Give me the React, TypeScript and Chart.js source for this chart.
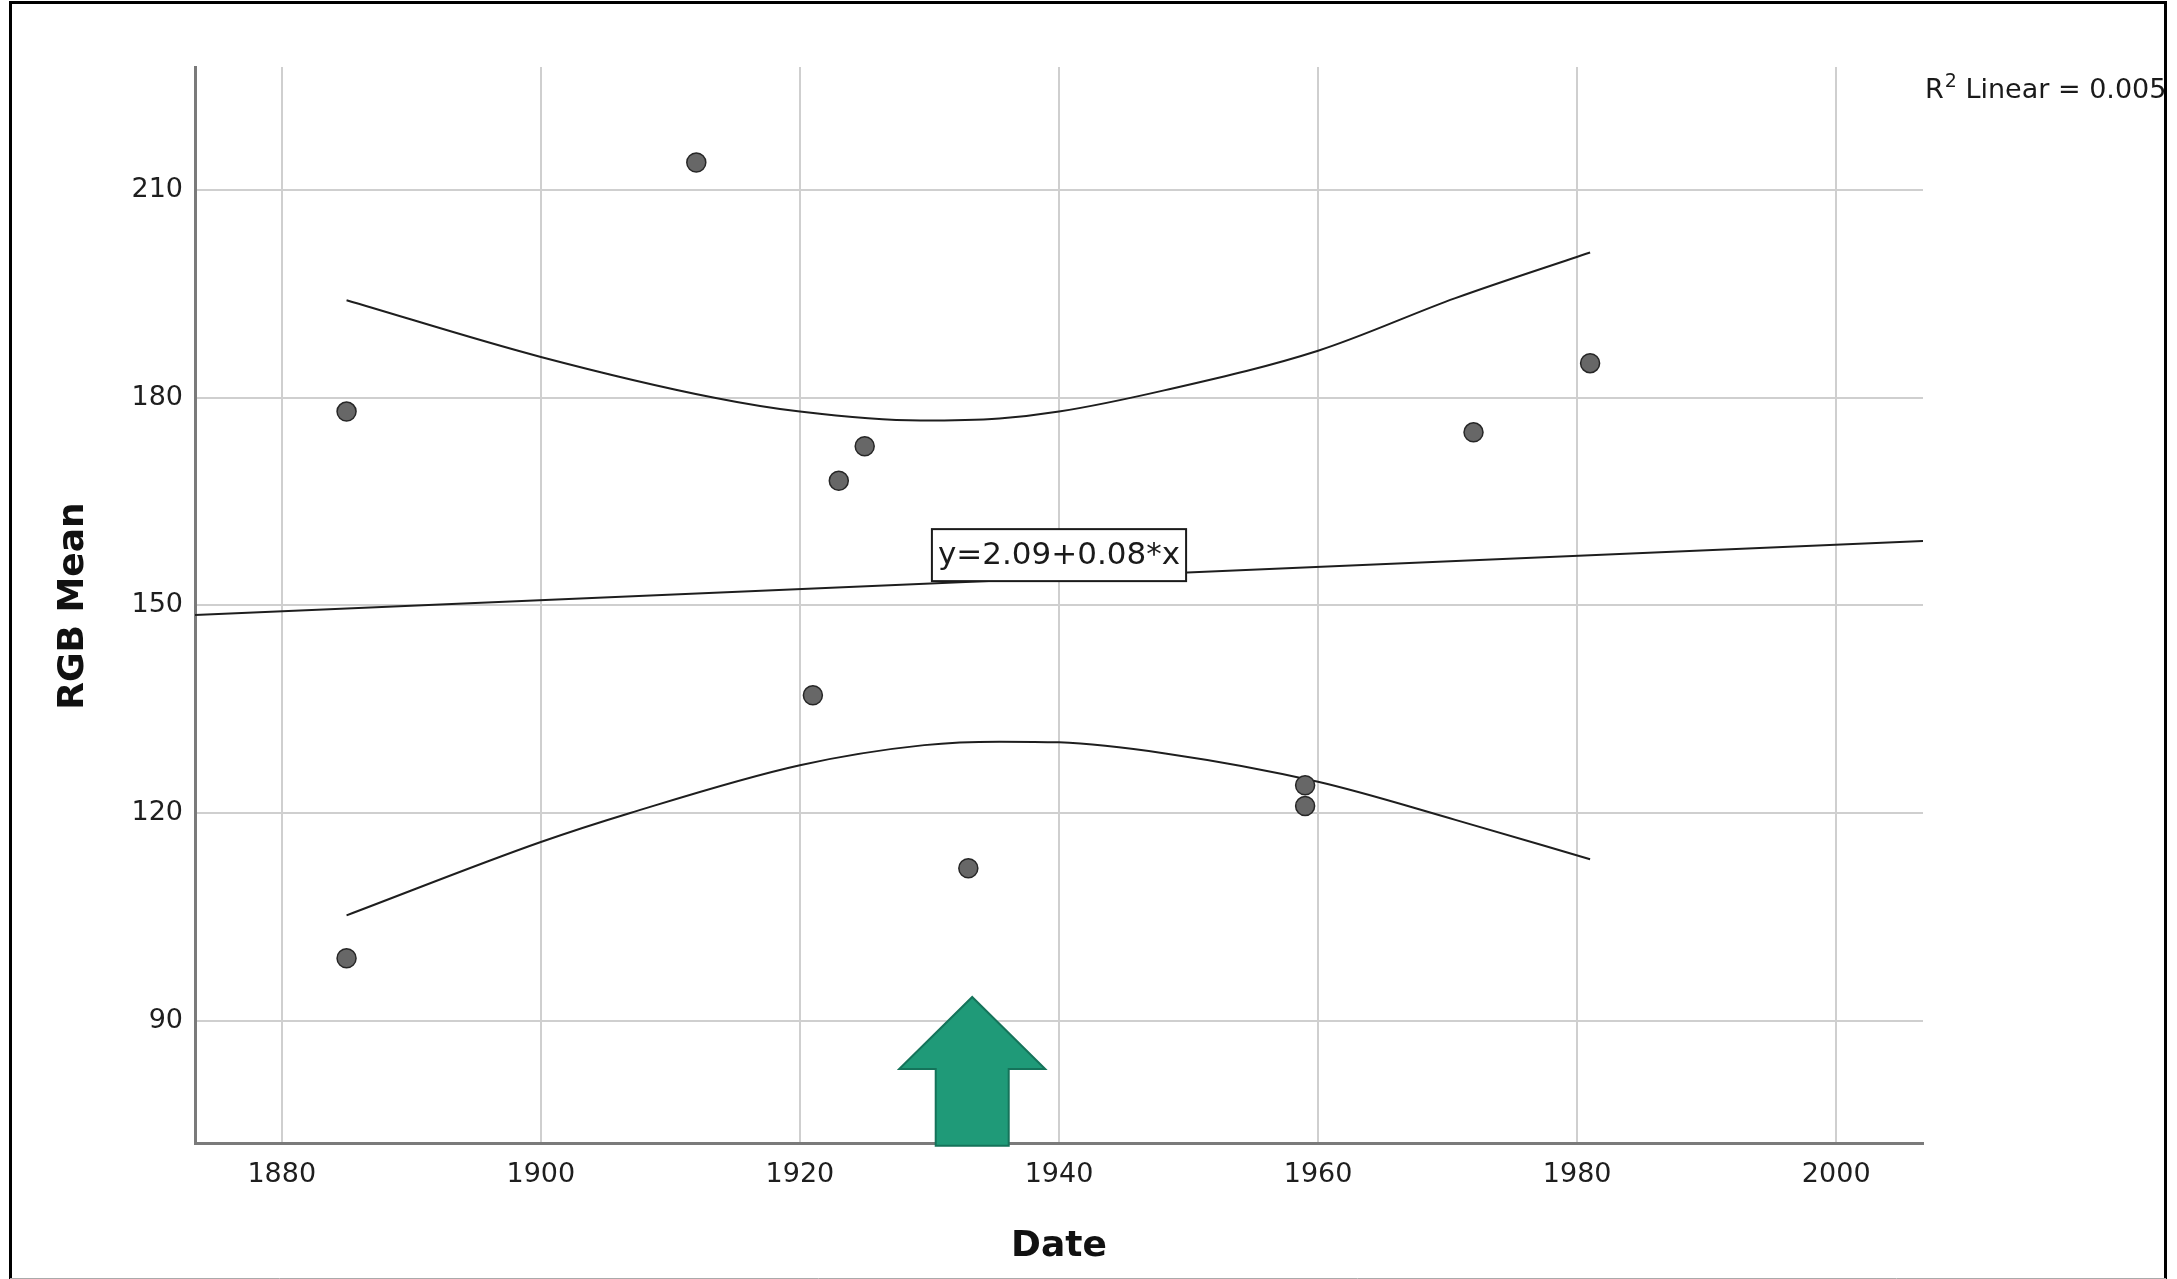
import React, { useEffect, useRef } from "react";
import { Chart, registerables } from "chart.js";

Chart.register(...registerables);

// ---- data ----
const dates = [1885, 1885, 1912, 1921, 1923, 1925, 1933, 1959, 1959, 1972, 1981];
const rgbMean = [178, 99, 214, 137, 168, 173, 112, 124, 121, 175, 185];

// fitted linear regression line (end points)
const fitX = [1873.3, 2006.7];
const fitY = [148.6, 159.3];

// 95% confidence band of the mean
const upperX = [1885, 1900, 1913.4, 1920, 1929.3, 1935.4, 1940, 1948.2, 1960, 1970.6, 1981];
const upperY = [194.1, 185.9, 180.0, 178.0, 176.7, 177.0, 178.0, 181.1, 186.8, 194.4, 201.0];
const lowerX = [1885, 1900, 1906.9, 1920, 1929.6, 1935.4, 1940, 1948.2, 1960, 1970.6, 1981];
const lowerY = [105.2, 115.8, 120.0, 126.9, 129.8, 130.3, 130.2, 128.6, 124.5, 119.0, 113.3];

const xTicks = [1880, 1900, 1920, 1940, 1960, 1980, 2000];
const yTicks = [90, 120, 150, 180, 210];
const xRange = [1873.3, 2006.7];
const yRange = [72.3, 227.8];

const xTitle = "Date";
const yTitle = "RGB Mean";
const equationLabel = "y=2.09+0.08*x";
const equationAnchor = [1940, 153.5]; // bottom-centre of the label box (data units)
const r2Label = ["R", "2", " Linear = 0.005"];
const arrowAnchor = [1933.3, 93.4, 83.0, 71.9]; // x, tip y, head base y, shaft bottom y (data units)

const W = 2177;
const H = 1279;

const overlayPlugin = {
  id: "overlay",
  beforeDraw(chart: any) {
    const ctx = chart.ctx;
    ctx.save();
    ctx.fillStyle = "#ffffff";
    ctx.fillRect(0, 0, W, H);
    ctx.restore();
  },
  afterDraw(chart: any) {
    const ctx = chart.ctx;
    const xs = chart.scales.x;
    const ys = chart.scales.y;
    const area = chart.chartArea;
    ctx.save();

    // axis titles
    ctx.fillStyle = "#111111";
    ctx.font = "bold 36px 'DejaVu Sans'";
    ctx.textAlign = "center";
    ctx.textBaseline = "middle";
    ctx.fillText(xTitle, (area.left + area.right) / 2, 1247);
    ctx.save();
    ctx.translate(74, (area.top + area.bottom) / 2 + 1);
    ctx.rotate(-Math.PI / 2);
    ctx.fillText(yTitle, 0, 0);
    ctx.restore();

    // equation label box
    ctx.font = "31px 'DejaVu Sans'";
    const tw = ctx.measureText(equationLabel).width;
    const bw = tw + 12;
    const bh = 52;
    const cx = xs.getPixelForValue(equationAnchor[0]);
    const by = ys.getPixelForValue(equationAnchor[1]);
    ctx.fillStyle = "#ffffff";
    ctx.fillRect(cx - bw / 2, by - bh, bw, bh);
    ctx.strokeStyle = "#1a1a1a";
    ctx.lineWidth = 2;
    ctx.strokeRect(cx - bw / 2, by - bh, bw, bh);
    ctx.fillStyle = "#1a1a1a";
    ctx.textAlign = "center";
    ctx.textBaseline = "middle";
    ctx.fillText(equationLabel, cx, by - bh / 2 + 1);

    // arrow annotation
    const ax = xs.getPixelForValue(arrowAnchor[0]);
    const tipY = ys.getPixelForValue(arrowAnchor[1]);
    const headY = ys.getPixelForValue(arrowAnchor[2]);
    const botY = ys.getPixelForValue(arrowAnchor[3]);
    const headHalf = 73;
    const shaftHalf = 36.5;
    ctx.beginPath();
    ctx.moveTo(ax, tipY);
    ctx.lineTo(ax + headHalf, headY);
    ctx.lineTo(ax + shaftHalf, headY);
    ctx.lineTo(ax + shaftHalf, botY);
    ctx.lineTo(ax - shaftHalf, botY);
    ctx.lineTo(ax - shaftHalf, headY);
    ctx.lineTo(ax - headHalf, headY);
    ctx.closePath();
    ctx.fillStyle = "#1f9a78";
    ctx.fill();
    ctx.strokeStyle = "#15735a";
    ctx.lineWidth = 2;
    ctx.stroke();

    // R² text (top right)
    ctx.fillStyle = "#1a1a1a";
    ctx.textAlign = "left";
    ctx.textBaseline = "alphabetic";
    let tx = 1925;
    ctx.font = "27px 'DejaVu Sans'";
    ctx.fillText(r2Label[0], tx, 98);
    tx += ctx.measureText(r2Label[0]).width + 1;
    ctx.font = "19px 'DejaVu Sans'";
    ctx.fillText(r2Label[1], tx, 87);
    tx += ctx.measureText(r2Label[1]).width;
    ctx.font = "27px 'DejaVu Sans'";
    ctx.fillText(r2Label[2], tx, 98);

    // outer frame
    ctx.fillStyle = "#ffffff";
    ctx.fillRect(2167, 0, W - 2167, H);
    ctx.strokeStyle = "#000000";
    ctx.lineWidth = 3;
    ctx.beginPath();
    ctx.moveTo(10.5, H);
    ctx.lineTo(10.5, 2.5);
    ctx.lineTo(2165.5, 2.5);
    ctx.lineTo(2165.5, H);
    ctx.stroke();
    ctx.strokeStyle = "#aaaaaa";
    ctx.lineWidth = 1;
    ctx.beginPath();
    ctx.moveTo(10, 1278.5);
    ctx.lineTo(2166, 1278.5);
    ctx.stroke();

    ctx.restore();
  },
};

export default function App() {
  const canvasRef = useRef<HTMLCanvasElement | null>(null);

  useEffect(() => {
    const canvas = canvasRef.current;
    if (!canvas) return;
    const points = dates.map((d, i) => ({ x: d, y: rgbMean[i] }));
    const fit = fitX.map((d, i) => ({ x: d, y: fitY[i] }));
    const upper = upperX.map((d, i) => ({ x: d, y: upperY[i] }));
    const lower = lowerX.map((d, i) => ({ x: d, y: lowerY[i] }));

    const lineStyle = {
      showLine: true,
      pointRadius: 0,
      pointHoverRadius: 0,
      borderColor: "#1e1e1e",
      borderWidth: 2,
      fill: false,
    };

    const chart = new Chart(canvas, {
      type: "scatter",
      data: {
        datasets: [
          {
            label: "RGB Mean",
            data: points,
            pointRadius: 9.5,
            pointHoverRadius: 9.5,
            backgroundColor: "#676767",
            borderColor: "#262626",
            borderWidth: 1.5,
          },
          { label: "Fit", data: fit, ...lineStyle, tension: 0 },
          { label: "Upper", data: upper, ...lineStyle, cubicInterpolationMode: "monotone" },
          { label: "Lower", data: lower, ...lineStyle, cubicInterpolationMode: "monotone" },
        ] as any,
      },
      options: {
        responsive: false,
        maintainAspectRatio: false,
        devicePixelRatio: 1,
        animation: false,
        events: [],
        layout: { padding: { left: 0, top: 67, right: W - 1923, bottom: 0 } },
        plugins: {
          legend: { display: false },
          tooltip: { enabled: false },
          title: { display: false },
        },
        scales: {
          x: {
            type: "linear",
            min: xRange[0],
            max: xRange[1],
            afterFit: (scale: any) => {
              scale.height = H - 1143;
            },
            afterBuildTicks: (scale: any) => {
              scale.ticks = xTicks.map((v) => ({ value: v }));
            },
            ticks: {
              callback: (v: any) => String(v),
              font: { family: "'DejaVu Sans'", size: 27 },
              color: "#1e1e1e",
              padding: 16,
              maxRotation: 0,
              autoSkip: false,
            },
            grid: { color: "#cfcfcf", lineWidth: 2, drawTicks: false },
            border: { color: "#7a7a7a", width: 3 },
          },
          y: {
            type: "linear",
            min: yRange[0],
            max: yRange[1],
            afterFit: (scale: any) => {
              scale.width = 195;
            },
            afterBuildTicks: (scale: any) => {
              scale.ticks = yTicks.map((v) => ({ value: v }));
            },
            ticks: {
              callback: (v: any) => String(v),
              font: { family: "'DejaVu Sans'", size: 27 },
              color: "#1e1e1e",
              padding: 12,
              autoSkip: false,
            },
            grid: { color: "#cfcfcf", lineWidth: 2, drawTicks: false },
            border: { color: "#7a7a7a", width: 3 },
          },
        },
      },
      plugins: [overlayPlugin],
    } as any);

    return () => {
      chart.destroy();
    };
  }, []);

  return (
    <div
      style={{
        position: "fixed",
        left: 0,
        top: 0,
        width: W,
        height: H,
        background: "#ffffff",
        overflow: "hidden",
      }}
    >
      <canvas ref={canvasRef} width={W} height={H} style={{ width: W, height: H, display: "block" }} />
    </div>
  );
}
